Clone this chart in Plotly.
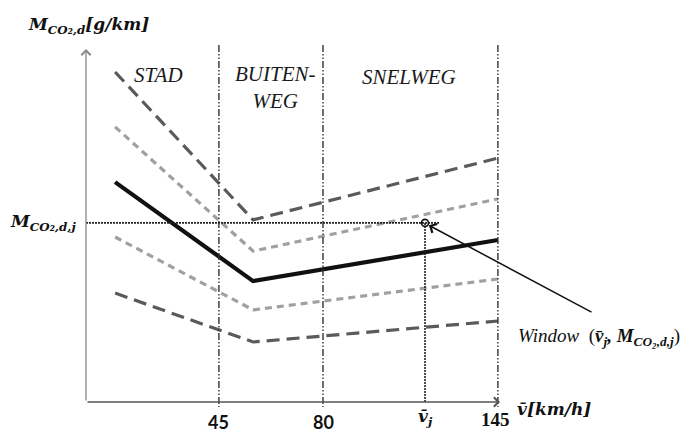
import plotly.graph_objects as go

# Schematic units (no numeric y scale in the original)
curve_x = [9.7, 55.7, 137.3]
curve_top = [110.0, 60.7, 81.3]
curve_upper = [91.7, 50.3, 67.7]
curve_mid = [73.3, 40.3, 54.0]
curve_lower = [55.0, 30.7, 41.0]
curve_bottom = [36.3, 20.0, 27.0]

boundary_x = [44.3, 79.0, 137.3]
tick_labels = ["45", "80", "145"]
region_x = [24.3, 63.0, 107.7]
region_labels = ["STAD", "BUITEN-<br>WEG", "SNELWEG"]

window_x = 113.0
window_y = 59.7

X0, Y0 = 86, 402          # pixel of the origin
S = 3.0                   # px per unit
xr = [-X0 / S, (700 - X0) / S]
yr = [(Y0 - 432) / S, Y0 / S]

def px(x):
    return (x - X0) / S

def py(y):
    return (Y0 - y) / S

fig = go.Figure()

dark = "#5a5a5a"
light = "#a0a0a0"
fig.add_trace(go.Scatter(x=curve_x, y=curve_top, mode="lines",
                         line=dict(color=dark, width=3.2, dash="13px,7px")))
fig.add_trace(go.Scatter(x=curve_x, y=curve_upper, mode="lines",
                         line=dict(color=light, width=3.2, dash="7px,5px")))
fig.add_trace(go.Scatter(x=curve_x, y=curve_mid, mode="lines",
                         line=dict(color="#111111", width=4.2)))
fig.add_trace(go.Scatter(x=curve_x, y=curve_lower, mode="lines",
                         line=dict(color=light, width=3.2, dash="7px,5px")))
fig.add_trace(go.Scatter(x=curve_x, y=curve_bottom, mode="lines",
                         line=dict(color=dark, width=3.2, dash="13px,7px")))

# boundaries (dash-dot-dot)
for bx in boundary_x:
    fig.add_trace(go.Scatter(x=[bx, bx], y=[py(45), py(407)], mode="lines",
                             line=dict(color="#333333", width=1.4,
                                       dash="7px,2px,1.5px,2px,1.5px,2px")))

# dotted guide lines to the window point
fig.add_trace(go.Scatter(x=[0, px(440)], y=[window_y, window_y], mode="lines",
                         line=dict(color="#222222", width=1.6, dash="2px,1px")))
fig.add_trace(go.Scatter(x=[window_x, window_x], y=[window_y, 0], mode="lines",
                         line=dict(color="#222222", width=1.6, dash="2px,1px")))
fig.add_trace(go.Scatter(x=[window_x], y=[window_y], mode="markers",
                         marker=dict(symbol="circle-open", size=7, color="#111111",
                                     line=dict(color="#111111", width=1.6))))

ann = []
# axes with arrow heads
ann.append(dict(x=0, y=py(49), ax=0, ay=0, xref="x", yref="y", axref="x", ayref="y",
                showarrow=True, arrowhead=4, arrowsize=1.4, arrowwidth=1.3,
                arrowcolor="#888888", text=""))
ann.append(dict(x=px(500), y=0, ax=0, ay=0, xref="x", yref="y", axref="x", ayref="y",
                showarrow=True, arrowhead=4, arrowsize=1.4, arrowwidth=1.3,
                arrowcolor="#555555", text=""))
# pointer to the window
ann.append(dict(x=window_x + 1.3, y=window_y - 0.8, ax=px(593), ay=py(313),
                xref="x", yref="y", axref="x", ayref="y",
                showarrow=True, arrowhead=4, arrowsize=1.3, arrowwidth=1.5,
                arrowcolor="#111111", text=""))

serif = "Liberation Serif"
for rx, lab in zip(region_x, region_labels):
    yy = py(75) if "<br>" not in lab else py(87)
    if lab == "SNELWEG":
        yy = py(77)
    ann.append(dict(x=rx, y=yy, text=f"<i>{lab}</i>", showarrow=False,
                    font=dict(family=serif, size=21, color="#1a1a1a")))

ann.append(dict(x=boundary_x[0], y=py(422), text="<b>" + tick_labels[0] + "</b>", showarrow=False,
                font=dict(family="Liberation Sans Narrow, Lato", size=18, color="#111")))
ann.append(dict(x=boundary_x[1], y=py(422), text="<b>" + tick_labels[1] + "</b>", showarrow=False,
                font=dict(family="Liberation Sans Narrow, Lato", size=18, color="#111")))
ann.append(dict(x=px(495), y=py(419), text="<b>" + tick_labels[2] + "</b>", showarrow=False,
                font=dict(family=serif, size=19, color="#111")))
ann.append(dict(x=window_x, y=py(417), text="<b><i>v\u0304<sub>j</sub></i></b>",
                showarrow=False, font=dict(family="DejaVu Serif", size=17, color="#111")))
ann.append(dict(x=px(554), y=py(409), text="<b><i>v\u0304[km/h]</i></b>",
                showarrow=False, font=dict(family="DejaVu Serif", size=17, color="#111")))
ann.append(dict(x=px(88), y=py(25),
                text="<b><i>M<sub>CO\u2082,d</sub>[g/km]</i></b>",
                showarrow=False, font=dict(family="DejaVu Serif", size=17, color="#111")))
ann.append(dict(x=px(43), y=window_y,
                text="<b><i>M<sub>CO\u2082,d,j</sub></i></b>",
                showarrow=False, font=dict(family="DejaVu Serif", size=17, color="#111")))
ann.append(dict(x=px(516), y=py(337), xanchor="left",
                text="<i>Window</i>  (<b><i>v\u0304<sub>j</sub>, M<sub>CO\u2082,d,j</sub></i></b>)",
                showarrow=False, font=dict(family=serif, size=19, color="#111")))

fig.update_layout(
    width=700, height=432,
    margin=dict(l=0, r=0, t=0, b=0),
    paper_bgcolor="white", plot_bgcolor="white",
    showlegend=False,
    xaxis=dict(range=xr, visible=False, fixedrange=True),
    yaxis=dict(range=yr, visible=False, fixedrange=True),
    annotations=ann,
)

fig.write_html("out.html", config={"displayModeBar": False},
               post_script="document.body.style.margin='0';")
